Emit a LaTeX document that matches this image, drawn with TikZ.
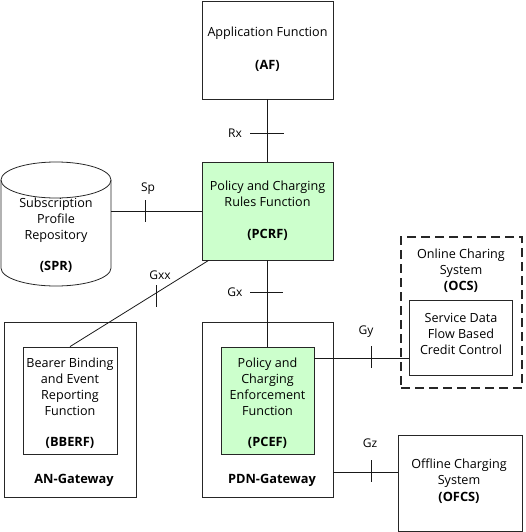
\documentclass[tikz,border=0pt]{standalone}
\usepackage{fontspec}
\setmainfont{Open Sans}
\usetikzlibrary{calc}
\definecolor{pcgreen}{RGB}{204,255,204}
\tikzset{
  box/.style={draw=black!85,line width=.8pt,inner sep=0pt},
  txt/.style={align=center,inner sep=0pt,font=\fontsize{12.6}{16}\selectfont},
  abbr/.style={txt,font=\fontsize{12.8}{16}\selectfont\bfseries},
  iface/.style={inner sep=0pt,font=\fontsize{12}{12}\selectfont},
  link/.style={draw=black!90,line width=.8pt}
}
\begin{document}
\begin{tikzpicture}[x=1pt,y=-1pt]
\useasboundingbox (0,0) rectangle (525,532);
% boxes
\node[box,minimum width=131,minimum height=98](AF)at(267.5,50){};
\node[box,fill=pcgreen,minimum width=131,minimum height=98](PCRF)at(267.5,211){};
\node[box,minimum width=132,minimum height=175](ANGW)at(70,409.5){};
\node[box,minimum width=94,minimum height=107](BBERF)at(70,400.5){};
\node[box,minimum width=131,minimum height=175](PDNGW)at(267.5,409.5){};
\node[box,fill=pcgreen,minimum width=93,minimum height=107](PCEF)at(267.5,400.5){};
\node[box,dashed,dash pattern=on 9pt off 5pt,line width=1.6pt,minimum width=121,minimum height=151](OCS)at(461.5,312.5){};
\node[box,minimum width=103,minimum height=75](SDF)at(460.5,337.5){};
\node[box,minimum width=124,minimum height=96](OFCS)at(460,483){};
% SPR cylinder
\node[inner sep=0pt,minimum width=110,minimum height=124](SPR)at(56,224){};
\draw[draw=black!85,line width=.8pt](1,180)--(1,268)arc[start angle=180,end angle=0,x radius=55,y radius=18]--(111,180);
\draw[draw=black!85,line width=.8pt](56,180)ellipse[x radius=55,y radius=18];
% texts
\node[txt](AFt)at(267.5,33){Application Function};
\node[abbr](AFa)at(267.5,66){(AF)};
\node[txt](PCRFt)at(267.5,193.5){Policy and Charging\\Rules Function};
\node[abbr](PCRFa)at(267.5,235){(PCRF)};
\node[txt](SPRt)at(56,220){Subscription\\Profile\\Repository};
\node[abbr](SPRa)at(56,267){(SPR)};
\node[txt](BBERFt)at(70,387){Bearer Binding\\and Event\\Reporting\\Function};
\node[abbr](BBERFa)at(70,443){(BBERF)};
\node[txt](PCEFt)at(267.5,387){Policy and\\Charging\\Enforcement\\Function};
\node[abbr](PCEFa)at(267.5,443){(PCEF)};
\node[abbr](ANGWt)at(74,480){AN-Gateway};
\node[abbr](PDNGWt)at(272,480){PDN-Gateway};
\node[txt](OCSt)at(461,263){Online Charing\\System};
\node[abbr](OCSa)at(461,287){(OCS)};
\node[txt](SDFt)at(461,334){Service Data\\Flow Based\\Credit Control};
\node[txt](OFCSt)at(459,473){Offline Charging\\System};
\node[abbr](OFCSa)at(459,498){(OFCS)};
% interfaces
\draw[link](AF.south)--(PCRF.north);
\draw[link](SPR.east|-PCRF.west)--(PCRF.west);
\draw[link]($(PCRF.south west)+(7,0)$)--(BBERF.north);
\draw[link,line width=1.6pt](PCRF.south)--(PCEF.north);
\coordinate(gy)at($(PCEF.north east)+(0,12)$);
\draw[link](gy)--(SDF.west|-gy);
\coordinate(gz)at($(PDNGW.south east)+(0,-25)$);
\draw[link](gz)--(OFCS.west|-gz);
% ticks
\draw[link](250,133)--+(34,0);
\draw[link](145,200)--+(0,22);
\draw[link](156,285)--+(0,22);
\draw[link](250,292)--+(33,0);
\draw[link](371,346)--+(0,22);
\draw[link](371,460)--+(0,22);
\node[iface](Rx)at(235,133){Rx};
\node[iface](Sp)at(148,189){Sp};
\node[iface](Gxx)at(160,275){Gxx};
\node[iface](Gx)at(235,292){Gx};
\node[iface](Gy)at(366,332){Gy};
\node[iface](Gz)at(370,443){Gz};
\end{tikzpicture}
\end{document}
